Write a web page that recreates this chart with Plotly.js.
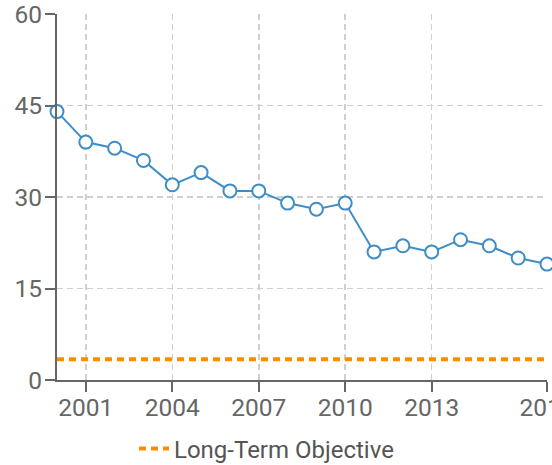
<!DOCTYPE html>
<html>
<head>
<meta charset="utf-8">
<script src="https://cdn.plot.ly/plotly-3.0.1.min.js"></script>
<style>html,body{margin:0;padding:0;background:#fff}#chart{width:552px;height:465px}</style>
</head>
<body>
<div id="chart"></div>
<script>
var years = [2000,2001,2002,2003,2004,2005,2006,2007,2008,2009,2010,2011,2012,2013,2014,2015,2016,2017];
var values = [44,39,38,36,32,34,31,31,29,28,29,21,22,21,23,22,20,19];
var objectiveYears = [2000, 2017];
var objectiveValue = [3.4, 3.4];
var xTicks = [2001,2004,2007,2010,2013,2017];
var yTicks = [0,15,30,45,60];

var traces = [
  {
    x: years, y: values, type: 'scatter', mode: 'lines+markers',
    name: 'Value', showlegend: false, cliponaxis: false,
    line: {color: '#3f8dc8', width: 2},
    marker: {size: 13, color: '#ffffff', line: {color: '#3f8dc8', width: 2}}
  },
  {
    x: objectiveYears, y: objectiveValue, type: 'scatter', mode: 'lines',
    name: 'Long-Term Objective',
    line: {color: '#ff8c00', width: 4, dash: '7px,5px'}
  }
];

var axisCommon = {
  showline: true, linecolor: '#666', linewidth: 2,
  ticks: 'outside', ticklen: 10, tickcolor: '#666', tickwidth: 2,
  showgrid: true, gridcolor: '#cfcfcf', gridwidth: 1.5, griddash: '6px,4px',
  zeroline: false, automargin: false, ticklabeloverflow: 'allow',
  tickfont: {family: 'Roboto', size: 24.5, color: '#666'}
};

var layout = {
  width: 552, height: 465,
  margin: {l: 57, r: 5, t: 14, b: 85},
  paper_bgcolor: '#fff', plot_bgcolor: '#fff',
  showlegend: true,
  legend: {orientation: 'h', xref: 'container', yref: 'container',
           x: 134 / 552, xanchor: 'left', y: 1 - 449 / 465, yanchor: 'middle',
           font: {family: 'Roboto', size: 24, color: '#555'}},
  xaxis: Object.assign({}, axisCommon, {range: [2000, 2017.0005], tickvals: xTicks, ticktext: xTicks.map(String), ticklabelstandoff: -5}),
  yaxis: Object.assign({}, axisCommon, {range: [0, 60.0005], tickvals: yTicks, ticklabelstandoff: -2})
};

Plotly.newPlot('chart', traces, layout, {displayModeBar: false, staticPlot: true});
</script>
</body>
</html>
